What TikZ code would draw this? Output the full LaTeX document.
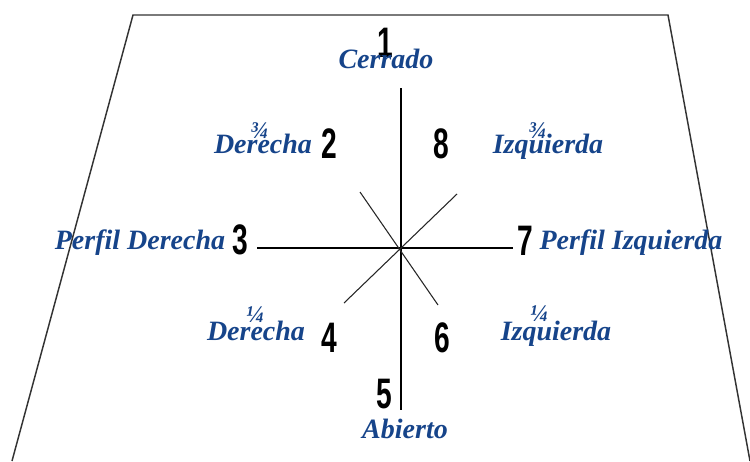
\documentclass[tikz,border=0pt]{standalone}
\usepackage{fontspec}
\setmainfont{Liberation Serif}
\newfontfamily\numfont[FakeStretch=0.66]{Liberation Sans}
\definecolor{lblue}{RGB}{22,68,138}
\begin{document}
\begin{tikzpicture}[x=0.75pt,y=-0.75pt,
  lbl/.style={text=lblue,font=\fontsize{21}{21}\selectfont\bfseries\itshape,anchor=base,inner sep=0pt},
  frac/.style={text=lblue,font=\fontsize{18}{18}\selectfont\bfseries\itshape,inner sep=0pt},
  num/.style={text=black,font=\fontsize{32}{32}\numfont\bfseries,inner sep=0pt},
  frame/.style={draw=black!80,line width=1.1pt},
  axis/.style={draw=black,line width=1.1pt},
  haxis/.style={draw=black,line width=2pt},
  diag/.style={draw=black!85,line width=0.8pt}]
\useasboundingbox (0,0) rectangle (750,461);
% frame
\coordinate (fbl) at (12,461);
\coordinate (ftl) at (133,15);
\coordinate (ftr) at (668,15);
\coordinate (fbr) at (750,461);
\draw[frame] (fbl) -- (ftl) -- (ftr) -- (fbr);
% axes
\coordinate (c) at (401,248);
\coordinate (vt) at (401,88);
\coordinate (vb) at (401,410);
\coordinate (hl) at (257,248);
\coordinate (hr) at (513,248);
\coordinate (d1a) at (344,303);
\coordinate (d1b) at (457,194);
\coordinate (d2a) at (360,192);
\coordinate (d2b) at (438,305);
\draw[axis] (vt) -- (vb);
\draw[haxis] (hl) -- (hr);
\draw[diag] (d1a) -- (d1b);
\draw[diag] (d2a) -- (d2b);
% numbers
\node[num] (n1) at (385,43) {1};
\node[num] (n2) at (329,144) {2};
\node[num] (n8) at (441,144) {8};
\node[num] (n3) at (240,240) {3};
\node[num] (n7) at (525,241) {7};
\node[num] (n4) at (329,338) {4};
\node[num] (n6) at (442,338) {6};
\node[num] (n5) at (384,394) {5};
% labels
\node[lbl] (cerrado) at (386,68) {Cerrado};
\node[frac] (f34l) at (259,131) {¾};
\node[lbl] (der2) at (263,153) {Derecha};
\node[frac] (f34r) at (537,131) {¾};
\node[lbl] (izq8) at (548,153) {Izquierda};
\node[lbl] (pder) at (140,249) {Perfil Derecha};
\node[lbl] (pizq) at (631,249) {Perfil Izquierda};
\node[frac] (f14l) at (255,315) {¼};
\node[lbl] (der4) at (256,340) {Derecha};
\node[frac] (f14r) at (539,314) {¼};
\node[lbl] (izq6) at (556,340) {Izquierda};
\node[lbl] (abierto) at (405,438) {Abierto};
\end{tikzpicture}
\end{document}
